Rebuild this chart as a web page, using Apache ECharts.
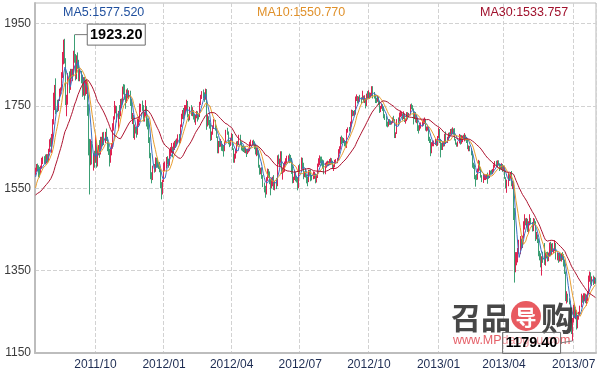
<!DOCTYPE html>
<html>
<head>
<meta charset="utf-8">
<script src="https://cdn.jsdelivr.net/npm/echarts@6/dist/echarts.min.js"></script>
<style>html,body{margin:0;padding:0;background:#fff}#c{width:600px;height:371px}</style>
</head>
<body>
<div id="c"></div>
<script>
// Trading days shown on the chart
const dates = [
'2011/07/15','2011/07/18','2011/07/19','2011/07/20','2011/07/21','2011/07/22','2011/07/25','2011/07/26','2011/07/27','2011/07/28','2011/07/29',
'2011/08/01','2011/08/02','2011/08/03','2011/08/04','2011/08/05','2011/08/08','2011/08/09','2011/08/10','2011/08/11','2011/08/12','2011/08/15','2011/08/16','2011/08/17','2011/08/18','2011/08/19','2011/08/22','2011/08/23','2011/08/24','2011/08/25','2011/08/26','2011/08/29','2011/08/30','2011/08/31',
'2011/09/01','2011/09/02','2011/09/06','2011/09/07','2011/09/08','2011/09/09','2011/09/12','2011/09/13','2011/09/14','2011/09/15','2011/09/16','2011/09/19','2011/09/20','2011/09/21','2011/09/22','2011/09/23','2011/09/26','2011/09/27','2011/09/28','2011/09/29','2011/09/30',
'2011/10/03','2011/10/04','2011/10/05','2011/10/06','2011/10/07','2011/10/10','2011/10/11','2011/10/12','2011/10/13','2011/10/14','2011/10/17','2011/10/18','2011/10/19','2011/10/20','2011/10/21','2011/10/24','2011/10/25','2011/10/26','2011/10/27','2011/10/28','2011/10/31',
'2011/11/01','2011/11/02','2011/11/03','2011/11/04','2011/11/07','2011/11/08','2011/11/09','2011/11/10','2011/11/11','2011/11/14','2011/11/15','2011/11/16','2011/11/17','2011/11/18','2011/11/21','2011/11/22','2011/11/23','2011/11/25','2011/11/28','2011/11/29','2011/11/30',
'2011/12/01','2011/12/02','2011/12/05','2011/12/06','2011/12/07','2011/12/08','2011/12/09','2011/12/12','2011/12/13','2011/12/14','2011/12/15','2011/12/16','2011/12/19','2011/12/20','2011/12/21','2011/12/22','2011/12/23','2011/12/27','2011/12/28','2011/12/29','2011/12/30',
'2012/01/03','2012/01/04','2012/01/05','2012/01/06','2012/01/09','2012/01/10','2012/01/11','2012/01/12','2012/01/13','2012/01/17','2012/01/18','2012/01/19','2012/01/20','2012/01/23','2012/01/24','2012/01/25','2012/01/26','2012/01/27','2012/01/30','2012/01/31',
'2012/02/01','2012/02/02','2012/02/03','2012/02/06','2012/02/07','2012/02/08','2012/02/09','2012/02/10','2012/02/13','2012/02/14','2012/02/15','2012/02/16','2012/02/17','2012/02/21','2012/02/22','2012/02/23','2012/02/24','2012/02/27','2012/02/28','2012/02/29',
'2012/03/01','2012/03/02','2012/03/05','2012/03/06','2012/03/07','2012/03/08','2012/03/09','2012/03/12','2012/03/13','2012/03/14','2012/03/15','2012/03/16','2012/03/19','2012/03/20','2012/03/21','2012/03/22','2012/03/23','2012/03/26','2012/03/27','2012/03/28','2012/03/29','2012/03/30',
'2012/04/02','2012/04/03','2012/04/04','2012/04/05','2012/04/09','2012/04/10','2012/04/11','2012/04/12','2012/04/13','2012/04/16','2012/04/17','2012/04/18','2012/04/19','2012/04/20','2012/04/23','2012/04/24','2012/04/25','2012/04/26','2012/04/27','2012/04/30',
'2012/05/01','2012/05/02','2012/05/03','2012/05/04','2012/05/07','2012/05/08','2012/05/09','2012/05/10','2012/05/11','2012/05/14','2012/05/15','2012/05/16','2012/05/17','2012/05/18','2012/05/21','2012/05/22','2012/05/23','2012/05/24','2012/05/25','2012/05/29','2012/05/30','2012/05/31',
'2012/06/01','2012/06/04','2012/06/05','2012/06/06','2012/06/07','2012/06/08','2012/06/11','2012/06/12','2012/06/13','2012/06/14','2012/06/15','2012/06/18','2012/06/19','2012/06/20','2012/06/21','2012/06/22','2012/06/25','2012/06/26','2012/06/27','2012/06/28','2012/06/29',
'2012/07/02','2012/07/03','2012/07/05','2012/07/06','2012/07/09','2012/07/10','2012/07/11','2012/07/12','2012/07/13','2012/07/16','2012/07/17','2012/07/18','2012/07/19','2012/07/20','2012/07/23','2012/07/24','2012/07/25','2012/07/26','2012/07/27','2012/07/30','2012/07/31',
'2012/08/01','2012/08/02','2012/08/03','2012/08/06','2012/08/07','2012/08/08','2012/08/09','2012/08/10','2012/08/13','2012/08/14','2012/08/15','2012/08/16','2012/08/17','2012/08/20','2012/08/21','2012/08/22','2012/08/23','2012/08/24','2012/08/27','2012/08/28','2012/08/29','2012/08/30','2012/08/31',
'2012/09/04','2012/09/05','2012/09/06','2012/09/07','2012/09/10','2012/09/11','2012/09/12','2012/09/13','2012/09/14','2012/09/17','2012/09/18','2012/09/19','2012/09/20','2012/09/21','2012/09/24','2012/09/25','2012/09/26','2012/09/27','2012/09/28',
'2012/10/01','2012/10/02','2012/10/03','2012/10/04','2012/10/05','2012/10/08','2012/10/09','2012/10/10','2012/10/11','2012/10/12','2012/10/15','2012/10/16','2012/10/17','2012/10/18','2012/10/19','2012/10/22','2012/10/23','2012/10/24','2012/10/25','2012/10/26','2012/10/29','2012/10/30','2012/10/31',
'2012/11/01','2012/11/02','2012/11/05','2012/11/06','2012/11/07','2012/11/08','2012/11/09','2012/11/12','2012/11/13','2012/11/14','2012/11/15','2012/11/16','2012/11/19','2012/11/20','2012/11/21','2012/11/23','2012/11/26','2012/11/27','2012/11/28','2012/11/29','2012/11/30',
'2012/12/03','2012/12/04','2012/12/05','2012/12/06','2012/12/07','2012/12/10','2012/12/11','2012/12/12','2012/12/13','2012/12/14','2012/12/17','2012/12/18','2012/12/19','2012/12/20','2012/12/21','2012/12/24','2012/12/26','2012/12/27','2012/12/28','2012/12/31',
'2013/01/02','2013/01/03','2013/01/04','2013/01/07','2013/01/08','2013/01/09','2013/01/10','2013/01/11','2013/01/14','2013/01/15','2013/01/16','2013/01/17','2013/01/18','2013/01/22','2013/01/23','2013/01/24','2013/01/25','2013/01/28','2013/01/29','2013/01/30','2013/01/31',
'2013/02/01','2013/02/04','2013/02/05','2013/02/06','2013/02/07','2013/02/08','2013/02/11','2013/02/12','2013/02/13','2013/02/14','2013/02/15','2013/02/19','2013/02/20','2013/02/21','2013/02/22','2013/02/25','2013/02/26','2013/02/27','2013/02/28',
'2013/03/01','2013/03/04','2013/03/05','2013/03/06','2013/03/07','2013/03/08','2013/03/11','2013/03/12','2013/03/13','2013/03/14','2013/03/15','2013/03/18','2013/03/19','2013/03/20','2013/03/21','2013/03/22','2013/03/25','2013/03/26','2013/03/27','2013/03/28',
'2013/04/01','2013/04/02','2013/04/03','2013/04/04','2013/04/05','2013/04/08','2013/04/09','2013/04/10','2013/04/11','2013/04/12','2013/04/15','2013/04/16','2013/04/17','2013/04/18','2013/04/19','2013/04/22','2013/04/23','2013/04/24','2013/04/25','2013/04/26','2013/04/29','2013/04/30',
'2013/05/01','2013/05/02','2013/05/03','2013/05/06','2013/05/07','2013/05/08','2013/05/09','2013/05/10','2013/05/13','2013/05/14','2013/05/15','2013/05/16','2013/05/17','2013/05/20','2013/05/21','2013/05/22','2013/05/23','2013/05/24','2013/05/28','2013/05/29','2013/05/30','2013/05/31',
'2013/06/03','2013/06/04','2013/06/05','2013/06/06','2013/06/07','2013/06/10','2013/06/11','2013/06/12','2013/06/13','2013/06/14','2013/06/17','2013/06/18','2013/06/19','2013/06/20','2013/06/21','2013/06/24','2013/06/25','2013/06/26','2013/06/27','2013/06/28',
'2013/07/01','2013/07/02','2013/07/03','2013/07/05','2013/07/08','2013/07/09','2013/07/10','2013/07/11','2013/07/12','2013/07/15','2013/07/16','2013/07/17','2013/07/18','2013/07/19','2013/07/22','2013/07/23','2013/07/24','2013/07/25','2013/07/26','2013/07/29','2013/07/30'
];

const opens = [
1587,1596,1602,1601,1595,1587,1601,1615,1620,1617,1614,
1628,1622,1642,1665,1659,1664,1713,1743,1785,1760,1747,1764,1790,1793,1822,1853,1892,1862,1757,1771,1828,1791,1836,
1825,1829,1877,1873,1817,1860,1857,1815,1830,1817,1780,1814,1779,1806,1808,1742,1657,1627,1652,1617,1623,
1620,1659,1614,1642,1651,1635,1670,1662,1681,1668,1683,1672,1655,1640,1616,1642,1653,1704,1722,1743,1747,
1716,1735,1735,1763,1758,1796,1790,1775,1759,1788,1780,1782,1761,1723,1725,1677,1698,1694,1683,1713,1717,
1746,1749,1746,1722,1732,1746,1712,1712,1667,1632,1585,1576,1598,1596,1620,1617,1608,1606,1595,1556,1541,
1567,1600,1613,1620,1617,1607,1638,1643,1648,1638,1655,1661,1658,1665,1678,1665,1701,1723,1738,1731,
1740,1746,1759,1725,1722,1745,1730,1738,1725,1722,1725,1735,1727,1725,1757,1776,1782,1779,1771,1787,
1711,1722,1711,1706,1674,1683,1700,1713,1700,1675,1644,1661,1658,1664,1650,1648,1645,1663,1690,1685,1662,1658,
1669,1678,1646,1615,1631,1639,1661,1659,1676,1660,1651,1651,1643,1642,1643,1638,1643,1644,1660,1664,
1664,1663,1653,1636,1643,1640,1605,1592,1595,1580,1561,1552,1538,1573,1592,1590,1571,1559,1561,1572,1557,1564,
1562,1622,1616,1618,1635,1588,1595,1597,1612,1618,1625,1628,1628,1619,1606,1566,1572,1588,1575,1574,1551,
1604,1597,1620,1609,1580,1589,1581,1576,1566,1592,1590,1580,1576,1582,1585,1578,1578,1605,1617,1623,1620,
1614,1600,1589,1604,1611,1613,1610,1618,1620,1614,1600,1605,1616,1618,1619,1640,1646,1672,1670,1665,1665,1660,1658,
1692,1694,1693,1703,1738,1731,1735,1733,1770,1772,1761,1770,1769,1768,1774,1764,1765,1752,1777,
1772,1776,1776,1778,1795,1781,1775,1765,1764,1770,1759,1739,1747,1752,1745,1724,1724,1708,1702,1712,1712,1709,1711,
1719,1715,1675,1683,1715,1715,1726,1730,1731,1725,1730,1714,1714,1733,1726,1729,1752,1749,1742,1722,1730,
1713,1718,1696,1694,1698,1704,1711,1714,1717,1696,1696,1697,1670,1667,1650,1657,1659,1662,1664,1656,
1676,1689,1668,1649,1646,1660,1655,1678,1662,1669,1683,1681,1688,1688,1692,1686,1670,1658,1655,1662,1679,
1664,1668,1675,1674,1678,1672,1667,1649,1649,1643,1635,1609,1604,1578,1577,1573,1594,1615,1596,
1578,1572,1573,1575,1576,1581,1578,1577,1592,1589,1588,1593,1605,1614,1607,1615,1608,1603,1599,1606,
1596,1600,1576,1553,1558,1581,1575,1586,1558,1565,1501,1361,1369,1392,1393,1395,1423,1408,1431,1465,1469,1468,
1472,1446,1468,1470,1467,1450,1473,1468,1434,1435,1425,1395,1386,1365,1384,1377,1368,1390,1386,1379,1392,1413,
1393,1412,1398,1398,1414,1383,1385,1378,1391,1376,1388,1383,1367,1347,1286,1292,1277,1275,1230,1210,
1234,1255,1242,1252,1224,1235,1247,1262,1287,1278,1284,1291,1277,1285,1296,1335,1339,1322,1332,1322,1329
];

const closes = [
1595.9,1602.4,1601.0,1595.2,1587.0,1601.3,1614.4,1620.5,1616.6,1613.6,1628.3,
1622.6,1641.7,1665.1,1658.6,1663.8,1713.2,1743.0,1784.5,1759.7,1746.9,1764.3,1790.3,1792.9,1822.0,1852.5,1891.9,1861.9,1757.3,1770.6,1827.5,1790.9,1835.9,1825.1,
1828.6,1876.9,1873.4,1817.2,1860.3,1856.6,1815.1,1830.0,1817.5,1780.5,1814.0,1779.5,1806.6,1808.4,1741.8,1657.1,1627.0,1652.5,1616.8,1623.3,1620.4,
1658.7,1614.3,1642.3,1651.1,1635.5,1670.2,1662.6,1681.5,1667.9,1683.1,1672.7,1655.0,1640.0,1615.7,1642.1,1652.9,1703.6,1721.6,1743.1,1747.1,1715.6,
1735.6,1734.5,1763.3,1757.7,1795.7,1790.0,1775.4,1758.9,1788.1,1779.5,1782.4,1760.6,1722.9,1724.9,1677.4,1698.2,1694.3,1683.4,1713.3,1717.4,1746.0,
1749.5,1746.3,1722.5,1731.8,1746.3,1711.7,1711.8,1667.0,1632.0,1585.0,1576.0,1597.8,1596.2,1619.8,1617.5,1608.5,1606.1,1594.7,1556.0,1540.6,1566.8,
1599.7,1612.8,1620.6,1616.9,1607.2,1638.3,1643.0,1648.2,1638.4,1655.0,1661.0,1658.0,1665.1,1677.7,1665.3,1700.9,1723.1,1737.9,1730.8,1740.0,
1745.6,1759.0,1725.3,1722.1,1745.0,1730.0,1738.2,1725.5,1721.6,1725.2,1735.0,1727.0,1725.1,1757.3,1775.6,1782.1,1778.6,1770.7,1786.7,1711.3,
1722.3,1710.8,1706.0,1673.7,1683.4,1699.9,1712.6,1700.0,1675.5,1644.1,1661.2,1658.5,1664.6,1650.0,1648.6,1645.3,1662.9,1689.8,1685.2,1662.1,1657.7,1669.3,
1677.6,1645.8,1614.9,1630.8,1639.2,1660.7,1659.3,1676.1,1660.1,1650.8,1650.8,1642.8,1642.2,1642.9,1637.9,1642.9,1644.4,1659.6,1663.9,1664.3,
1662.8,1652.9,1636.1,1643.3,1640.1,1604.7,1592.5,1594.7,1580.5,1561.5,1551.8,1538.1,1572.7,1592.1,1589.6,1570.7,1558.7,1560.6,1572.5,1556.6,1564.3,1562.3,
1622.0,1615.9,1617.5,1635.1,1588.5,1594.5,1596.8,1612.4,1618.3,1624.6,1627.8,1627.9,1618.8,1606.1,1566.2,1572.1,1588.2,1574.8,1574.3,1551.2,1604.2,
1597.4,1619.8,1609.5,1580.3,1588.8,1580.6,1575.9,1565.6,1592.2,1590.2,1580.4,1576.2,1582.1,1585.1,1578.5,1578.2,1605.5,1617.5,1623.2,1620.5,1614.4,
1600.5,1588.9,1604.2,1610.7,1612.6,1609.8,1618.1,1620.2,1614.4,1600.3,1604.6,1616.0,1617.6,1619.1,1640.1,1645.9,1671.8,1670.0,1665.3,1665.2,1660.2,1657.9,1691.8,
1693.7,1692.7,1702.6,1737.8,1730.8,1734.9,1733.0,1770.2,1772.1,1761.1,1770.0,1768.9,1767.7,1773.8,1764.2,1764.6,1751.8,1777.3,1772.1,
1776.1,1776.0,1778.3,1795.0,1780.7,1775.0,1765.2,1764.2,1770.0,1758.8,1738.7,1746.7,1752.6,1744.6,1724.0,1723.9,1708.0,1701.7,1712.2,1712.0,1709.5,1711.0,1719.1,
1715.5,1675.2,1683.5,1715.5,1714.7,1726.3,1730.3,1731.2,1724.6,1730.4,1714.0,1714.4,1733.1,1726.0,1728.9,1751.6,1749.0,1741.8,1722.0,1729.8,1712.7,
1718.3,1696.0,1694.5,1698.4,1703.9,1710.7,1714.5,1717.3,1695.7,1696.1,1697.5,1669.7,1667.4,1649.9,1657.2,1659.0,1662.0,1663.7,1655.9,1675.8,
1688.8,1668.3,1649.1,1646.5,1660.0,1654.6,1677.9,1662.0,1669.3,1682.6,1680.9,1688.5,1687.9,1692.5,1686.4,1669.5,1657.7,1654.8,1662.3,1678.8,1663.8,
1667.9,1675.3,1674.1,1678.0,1671.8,1667.2,1648.8,1649.3,1643.0,1635.0,1609.5,1603.7,1577.8,1577.5,1572.8,1593.9,1615.0,1596.4,1578.1,
1572.3,1572.8,1574.7,1575.7,1581.3,1578.0,1577.1,1591.6,1589.0,1588.0,1592.6,1604.8,1613.7,1607.2,1614.6,1607.8,1603.3,1599.1,1605.7,1595.7,
1600.0,1575.9,1553.4,1558.3,1581.0,1575.3,1586.2,1558.5,1564.9,1501.4,1361.1,1368.9,1392.0,1393.3,1395.2,1423.2,1408.4,1431.4,1465.1,1469.3,1467.5,1472.2,
1446.2,1467.6,1470.0,1466.7,1449.6,1473.1,1468.5,1433.7,1434.6,1425.5,1395.5,1386.6,1364.7,1384.0,1376.9,1368.5,1390.3,1386.6,1379.2,1391.7,1413.3,1392.6,
1411.9,1397.8,1398.2,1414.2,1383.3,1385.2,1377.8,1391.0,1375.7,1387.6,1383.5,1367.6,1347.7,1286.2,1292.0,1276.7,1275.3,1229.5,1210.3,1234.5,
1255.6,1242.4,1251.8,1223.7,1234.6,1246.9,1262.0,1286.6,1277.7,1283.7,1291.5,1277.4,1284.8,1296.5,1334.8,1339.4,1321.8,1331.8,1322.0,1328.6,1324.6
];

const lows = [
1581,1590,1592,1577,1576,1585,1598,1609,1610,1608,1610,
1612,1614,1638,1651,1636,1662,1705,1740,1730,1735,1738,1762,1776,1787,1818,1851,1853,1752,1725,1753,1781,1789,1816,
1810,1822,1855,1812,1815,1840,1810,1810,1805,1772,1775,1765,1775,1779,1726,1630,1535,1606,1608,1593,1600,
1612,1600,1603,1630,1624,1632,1650,1653,1655,1660,1665,1640,1631,1603,1612,1630,1646,1690,1717,1732,1710,
1690,1718,1725,1745,1754,1778,1765,1743,1757,1768,1767,1750,1718,1706,1672,1668,1683,1673,1680,1702,1711,
1735,1738,1712,1712,1725,1700,1693,1660,1623,1572,1562,1570,1588,1590,1600,1600,1597,1589,1550,1523,1535,
1565,1592,1598,1608,1600,1605,1628,1636,1625,1635,1643,1648,1652,1660,1658,1660,1699,1718,1717,1725,
1733,1740,1722,1712,1715,1726,1725,1717,1710,1704,1720,1712,1717,1723,1752,1767,1768,1760,1765,1692,
1700,1703,1695,1665,1667,1680,1694,1690,1672,1635,1635,1650,1651,1641,1640,1627,1640,1660,1680,1657,1650,1653,
1665,1643,1612,1612,1622,1635,1652,1655,1655,1642,1640,1638,1636,1635,1626,1633,1637,1640,1652,1655,
1655,1645,1632,1628,1630,1600,1583,1584,1573,1553,1540,1527,1535,1568,1575,1560,1533,1550,1555,1546,1545,1548,
1555,1608,1604,1612,1585,1571,1588,1590,1607,1611,1613,1611,1614,1585,1562,1563,1570,1567,1564,1545,1550,
1585,1595,1598,1572,1577,1576,1562,1555,1565,1581,1567,1569,1572,1573,1562,1564,1575,1602,1606,1611,1605,
1598,1584,1584,1600,1604,1605,1606,1607,1608,1597,1592,1601,1610,1611,1617,1634,1644,1657,1660,1660,1652,1650,1648,
1685,1688,1688,1700,1725,1726,1726,1729,1762,1756,1758,1760,1755,1765,1758,1757,1744,1750,1768,
1768,1767,1770,1774,1768,1768,1757,1757,1760,1752,1733,1735,1743,1738,1720,1716,1700,1698,1700,1704,1704,1705,1708,
1712,1672,1672,1682,1703,1712,1723,1725,1715,1718,1711,1707,1713,1717,1722,1727,1742,1740,1705,1718,1710,
1708,1689,1683,1690,1695,1700,1702,1706,1690,1688,1690,1665,1660,1628,1635,1652,1652,1655,1652,1653,
1672,1660,1625,1643,1643,1651,1652,1658,1660,1665,1672,1680,1679,1681,1680,1666,1656,1651,1651,1659,1656,
1658,1662,1670,1664,1666,1660,1645,1640,1640,1630,1600,1597,1572,1554,1570,1571,1590,1593,1576,
1565,1563,1570,1570,1572,1561,1573,1575,1583,1585,1584,1590,1600,1602,1600,1605,1592,1596,1595,1590,
1592,1573,1550,1539,1555,1568,1573,1555,1548,1473,1321,1346,1363,1370,1391,1390,1403,1405,1428,1450,1460,1455,
1444,1440,1460,1462,1445,1446,1462,1422,1426,1417,1385,1375,1358,1338,1369,1364,1362,1380,1372,1373,1385,1385,
1388,1395,1393,1397,1377,1375,1369,1372,1373,1372,1376,1360,1342,1276,1270,1273,1268,1224,1196,1179.4,
1224,1237,1232,1207,1210,1231,1240,1261,1272,1270,1276,1271,1265,1276,1293,1323,1316,1313,1315,1318,1318
];

const highs = [
1600,1609,1610,1606,1602,1605,1624,1627,1628,1632,1633,
1633,1646,1669,1673,1682,1718,1782,1801,1817,1765,1766,1792,1795,1832,1881,1911,1913,1866,1777,1830,1834,1840,1840,
1840,1884,1923.2,1876,1873,1880,1862,1840,1835,1826,1820,1820,1814,1815,1810,1754,1670,1669,1665,1635,1641,
1680,1666,1645,1655,1667,1675,1675,1686,1687,1687,1695,1675,1662,1646,1645,1660,1708,1725,1762,1751,1750,
1738,1752,1767,1768,1797,1803,1802,1776,1790,1793,1788,1787,1765,1733,1728,1705,1700,1697,1719,1724,1756,
1755,1763,1752,1736,1764,1750,1720,1715,1674,1636,1589,1605,1609,1625,1624,1624,1613,1614,1598,1565,1571,
1612,1615,1626,1628,1622,1645,1650,1660,1651,1661,1665,1668,1671,1681,1682,1705,1731,1740,1745,1752,
1752,1765,1762,1730,1748,1752,1747,1740,1731,1728,1738,1737,1732,1760,1777,1786,1790,1783,1792,1791,
1728,1725,1716,1708,1688,1703,1718,1716,1702,1676,1665,1665,1670,1665,1658,1653,1665,1692,1697,1688,1667,1673,
1684,1682,1647,1634,1645,1664,1665,1680,1680,1664,1654,1653,1652,1649,1645,1646,1647,1663,1668,1666,
1668,1664,1656,1649,1648,1642,1607,1600,1601,1582,1564,1556,1577,1598,1597,1591,1572,1575,1578,1582,1568,1575,
1630,1632,1622,1640,1640,1599,1611,1615,1623,1629,1630,1634,1631,1624,1607,1578,1594,1590,1580,1576,1606,
1610,1625,1624,1612,1591,1599,1584,1578,1595,1595,1596,1583,1591,1590,1586,1584,1610,1623,1630,1627,1627,
1620,1618,1612,1615,1617,1616,1621,1624,1623,1617,1607,1619,1621,1624,1645,1652,1675,1678,1674,1672,1668,1663,1694,
1698,1699,1712,1741,1740,1738,1740,1773,1778,1774,1773,1777,1771,1787,1775,1776,1768,1780,1786,
1788,1783,1782,1798,1798,1784,1776,1770,1775,1773,1761,1750,1756,1754,1748,1730,1726,1712,1718,1718,1715,1713,1722,
1726,1718,1686,1718,1722,1734,1739,1736,1732,1737,1732,1719,1735,1735,1733,1754,1756,1752,1744,1735,1735,
1726,1720,1703,1705,1710,1715,1718,1722,1718,1700,1700,1699,1675,1670,1662,1664,1666,1670,1667,1677,
1697,1694,1670,1660,1662,1664,1682,1688,1675,1685,1686,1694,1695,1698,1695,1696,1670,1661,1664,1682,1680,
1679,1678,1680,1684,1680,1675,1669,1654,1653,1648,1640,1612,1608,1582,1585,1598,1619,1617,1601,
1582,1584,1585,1582,1584,1588,1582,1594,1593,1595,1597,1608,1616,1617,1618,1618,1610,1608,1611,1609,
1604,1605,1577,1571,1588,1586,1588,1592,1568,1567,1502,1395,1395,1405,1425,1434,1428,1435,1470,1487,1477,1478,
1476,1470,1487,1478,1468,1478,1476,1470,1444,1438,1428,1398,1392,1385,1396,1417,1394,1395,1396,1394,1418,1420,
1416,1417,1404,1424,1417,1394,1393,1394,1392,1392,1395,1390,1375,1348,1300,1294,1283,1277,1236,1235,
1267,1267,1262,1254,1242,1250,1265,1294,1290,1295,1295,1294,1292,1299,1338,1348,1346,1336,1338,1335,1333
];

// Closes of the 29 trading days before the first shown day (2011/06/03 - 2011/07/14), used for the moving averages
const priorCloses = [
1540.0,1540.5,1541.4,1539.9,1538.0,1526.6,1514.0,1517.8,1527.2,1528.3,1536.6,1539.3,1546.5,1549.2,1518.8,1497.8,1497.3,1499.9,1508.7,1497.2,
1489.0,1518.6,1533.2,1533.4,1545.9,
1550.3,1566.6,1586.7,1588.1
];

const yTicks = [1150, 1350, 1550, 1750, 1950];
const quarterMonths = ['01', '04', '07', '10'];
const maPeriods = [5, 10, 30];

const UP = '#de2352', DOWN = '#3c9f74';
const MA_COLORS = ['#3b70c4', '#e89d2f', '#ae1430'];
const MA_TEXT = ['#1f4f9e', '#e0912b', '#a0112c'];

const allCloses = priorCloses.concat(closes);
function movingAverage(n) {
  const out = [];
  for (let i = 0; i < closes.length; i++) {
    const end = i + priorCloses.length;
    let s = 0;
    for (let k = end - n + 1; k <= end; k++) s += allCloses[k];
    out.push(+(s / n).toFixed(3));
  }
  return out;
}
const maSeries = maPeriods.map(movingAverage);
const candles = dates.map((d, i) => [opens[i], closes[i], lows[i], highs[i]]);

function isQuarterStart(i) {
  if (i <= 0) return false;
  const m = dates[i].slice(5, 7);
  return quarterMonths.indexOf(m) >= 0 && dates[i - 1].slice(5, 7) !== m;
}

const chart = echarts.init(document.getElementById('c'));
chart.setOption({
  animation: false,
  backgroundColor: '#ffffff',
  grid: { left: 35, right: 4, top: 3, bottom: 18, show: true, borderColor: '#b8b8b8', borderWidth: 1 },
  xAxis: {
    type: 'category', data: dates, boundaryGap: true,
    axisLine: { lineStyle: { color: '#bdbdbd', width: 2 } },
    axisTick: { show: false },
    axisLabel: {
      interval: (i) => isQuarterStart(i),
      formatter: (v) => v.slice(0, 7),
      color: '#1d2c52', fontSize: 12, margin: 6, fontFamily: 'Liberation Sans, Arial, sans-serif'
    },
    splitLine: { show: true, interval: (i) => isQuarterStart(i), lineStyle: { color: '#d2d2d2', type: 'dashed', width: 1 } }
  },
  yAxis: {
    type: 'value', min: 1150, max: 2000,
    axisLine: { show: true, lineStyle: { color: '#bdbdbd', width: 2 } },
    axisTick: { show: false, customValues: yTicks },
    axisLabel: { customValues: yTicks, formatter: (v) => String(v), color: '#3a3a3a', fontSize: 12, margin: 4, fontFamily: 'Liberation Sans, Arial, sans-serif' },
    splitLine: { show: true, lineStyle: { color: '#d2d2d2', type: 'dashed', width: 1 } }
  },
  series: [
    {
      type: 'candlestick', data: candles,
      itemStyle: { color: UP, color0: DOWN, borderColor: UP, borderColor0: DOWN, borderWidth: 1 }
    }
  ].concat(maSeries.map((d, k) => ({
    type: 'line', name: 'MA' + maPeriods[k], data: d, showSymbol: false, symbol: 'none',
    lineStyle: { width: 1, color: MA_COLORS[k] }, itemStyle: { color: MA_COLORS[k] }
  })))
});

// annotations
const hiVal = Math.max.apply(null, highs), hiIdx = highs.indexOf(hiVal);
const loVal = Math.min.apply(null, lows), loIdx = lows.indexOf(loVal);
const pHi = chart.convertToPixel({ gridIndex: 0 }, [hiIdx, hiVal]);
const pLo = chart.convertToPixel({ gridIndex: 0 }, [loIdx, loVal]);
const BOX_W = 58, BOX_H = 21;
const numFont = { fontSize: 14.5, fontWeight: 'bold', fontFamily: 'Liberation Sans, Arial, sans-serif', fill: '#000' };
const legendX = [63, 257, 480];

const graphics = [];
maPeriods.forEach((p, k) => {
  graphics.push({ type: 'text', z: 50, x: legendX[k], y: 13,
    style: { text: 'MA' + p + ':' + maSeries[k][0].toFixed(3), fontSize: 12.5, fontFamily: 'Liberation Sans, Arial, sans-serif',
      fill: MA_TEXT[k], textVerticalAlign: 'middle', verticalAlign: 'middle' } });
});
// watermark
const cjk = '"Noto Sans CJK SC", sans-serif';
graphics.push({ type: 'text', z: 60, x: 451, y: 318, style: { text: '召品', fontSize: 30, fontWeight: 'bold', fontFamily: cjk, fill: '#333', opacity: 0.9, textVerticalAlign: 'middle', verticalAlign: 'middle' } });
graphics.push({ type: 'circle', z: 60, shape: { cx: 526, cy: 316, r: 15 }, style: { fill: '#e5484f', opacity: 0.9 } });
graphics.push({ type: 'text', z: 61, x: 526, y: 317, style: { text: '导', fontSize: 21, fontWeight: 'bold', fontFamily: cjk, fill: '#fff', textAlign: 'center', align: 'center', textVerticalAlign: 'middle', verticalAlign: 'middle' } });
graphics.push({ type: 'text', z: 60, x: 541, y: 318, style: { text: '购', fontSize: 33, fontWeight: 'bold', fontFamily: cjk, fill: '#333', opacity: 0.9, textVerticalAlign: 'middle', verticalAlign: 'middle' } });
graphics.push({ type: 'text', z: 60, x: 453, y: 341, style: { text: 'www.MPdaogou.com', fontSize: 12.5, fontFamily: 'Liberation Sans, Arial, sans-serif', fill: '#e0444e', opacity: 0.85, textVerticalAlign: 'middle', verticalAlign: 'middle' } });
// high label
const hbx = pHi[0] + 12.5, hby = pHi[1] - BOX_H / 2;
graphics.push({ type: 'line', z: 70, shape: { x1: pHi[0], y1: pHi[1], x2: hbx, y2: pHi[1] }, style: { stroke: '#7a7a7a', lineWidth: 1 } });
graphics.push({ type: 'rect', z: 70, shape: { x: hbx, y: hby, width: BOX_W, height: BOX_H }, style: { fill: '#fff', stroke: '#6e6e6e', lineWidth: 1 } });
graphics.push({ type: 'text', z: 71, x: hbx + BOX_W / 2, y: pHi[1] + 0.5,
  style: Object.assign({ text: hiVal.toFixed(2), textAlign: 'center', align: 'center', textVerticalAlign: 'middle', verticalAlign: 'middle' }, numFont) });
// low label (transparent box: the watermark shows through as in the original)
const lbx = pLo[0] - 12 - BOX_W, lcy = pLo[1] + 2;
graphics.push({ type: 'line', z: 70, shape: { x1: lbx + BOX_W, y1: lcy, x2: pLo[0], y2: pLo[1] }, style: { stroke: '#7a7a7a', lineWidth: 1 } });
graphics.push({ type: 'rect', z: 70, shape: { x: lbx, y: lcy - BOX_H / 2, width: BOX_W, height: BOX_H }, style: { fill: 'rgba(255,255,255,0.35)', stroke: '#6e6e6e', lineWidth: 1 } });
graphics.push({ type: 'text', z: 71, x: lbx + BOX_W / 2, y: lcy + 0.5,
  style: Object.assign({ text: loVal.toFixed(2), textAlign: 'center', align: 'center', textVerticalAlign: 'middle', verticalAlign: 'middle' }, numFont) });

chart.setOption({ graphic: graphics });
</script>
</body>
</html>
